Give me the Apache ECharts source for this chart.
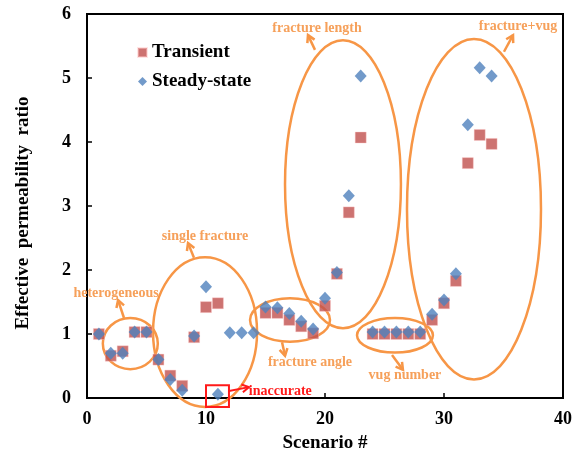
<!DOCTYPE html>
<html>
<head>
<meta charset="utf-8">
<script src="https://cdn.jsdelivr.net/npm/echarts@6/dist/echarts.min.js"></script>
<style>
  html, body { margin: 0; padding: 0; background: #fff; }
  #chart { width: 573px; height: 459px; }
</style>
</head>
<body>
<div id="chart"></div>
<script>
// Effective permeability ratio per simulation scenario
const scenarios = [1, 2, 3, 4, 5, 6, 7, 8, 9, 10, 11, 12, 13, 14, 15, 16, 17,
                   18, 19, 20, 21, 22, 23, 24, 25, 26, 27, 28, 29, 30, 31, 32, 33, 34];
const transient = [1.00, 0.66, 0.73, 1.03, 1.03, 0.60, 0.35, 0.19, 0.95, 1.42, 1.48, null, null, null,
                   1.33, 1.33, 1.22, 1.12, 1.01, 1.44, 1.94, 2.90, 4.07,
                   1.00, 1.00, 1.00, 1.00, 1.00, 1.22, 1.48, 1.83, 3.67, 4.11, 3.97];
const steadyState = [1.00, 0.70, 0.70, 1.03, 1.03, 0.60, 0.29, 0.12, 0.97, 1.74, 0.06, 1.02, 1.02, 1.02,
                     1.42, 1.41, 1.32, 1.20, 1.08, 1.56, 1.96, 3.16, 5.03,
                     1.03, 1.03, 1.03, 1.03, 1.03, 1.31, 1.53, 1.94, 4.27, 5.16, 5.03];
const xRange = [0, 40, 10];   // min, max, step
const yRange = [0, 6, 1];

const SERIF = '"Liberation Serif", "DejaVu Serif", serif';
const ORANGE = '#F79646';
const ORANGE_TEXT = '#F6A05A';
const RED = '#FF1A1A';

// Scenario groups, outlined in data units: ellipse centre and radii, pointer arrow, label anchor
const groupNotes = [
  { text: 'heterogeneous',   c: [3.64, 0.85],  r: [2.31, 0.40], arrow: [[3.11, 1.25], [2.61, 1.53]],  at: [2.44, 1.64] },
  { text: 'single fracture', c: [9.92, 1.03],  r: [4.37, 1.17], arrow: [[8.99, 2.19], [8.49, 2.42]],  at: [9.92, 2.53] },
  { text: 'fracture angle',  c: [17.06, 1.22], r: [3.36, 0.34], arrow: [[16.39, 0.87], [16.64, 0.66]], at: [18.74, 0.55] },
  { text: 'fracture length', c: [21.51, 3.34], r: [4.87, 2.25], arrow: [[19.16, 5.44], [18.57, 5.67]], at: [19.33, 5.77] },
  { text: 'vug number',      c: [25.88, 0.98], r: [3.19, 0.27], arrow: [[25.63, 0.67], [26.55, 0.44]], at: [26.72, 0.36] },
  { text: 'fracture+vug',    c: [32.52, 2.95], r: [5.63, 2.66], arrow: [[35.04, 5.41], [35.80, 5.67]], at: [36.22, 5.81] }
];
// Box around the unreliable steady-state point, with its pointer and label
const flagNote = { box: [[10.0, 0.20], [11.93, -0.14]], arrow: [[11.93, 0.11], [13.61, 0.17]], at: [13.6, 0.11], text: 'inaccurate' };

const pairs = (xs, ys) => xs.map((x, i) => [x, ys[i]]);

const chart = echarts.init(document.getElementById('chart'), null, { renderer: 'canvas' });

const axisText = { fontFamily: SERIF, fontWeight: 'bold', fontSize: 18, color: '#000' };
const titleText = { fontFamily: SERIF, fontWeight: 'bold', fontSize: 19, color: '#000' };

chart.setOption({
  animation: false,
  backgroundColor: '#fff',
  grid: {
    left: 87, right: 10, top: 14, bottom: 61,
    show: true, borderColor: '#000', borderWidth: 2,
    containLabel: false, outerBoundsMode: 'none'
  },
  legend: {
    orient: 'vertical', left: 132, top: 38,
    itemWidth: 9, itemHeight: 9, itemGap: 10,
    textStyle: { fontFamily: SERIF, fontWeight: 'bold', fontSize: 19, color: '#000', lineHeight: 19 },
    data: [{ name: 'Transient', icon: 'rect' }, { name: 'Steady-state', icon: 'diamond' }]
  },
  xAxis: {
    type: 'value', min: xRange[0], max: xRange[1], interval: xRange[2],
    name: 'Scenario #', nameLocation: 'middle', nameGap: 36,
    nameTextStyle: titleText,
    axisLine: { show: true, lineStyle: { color: '#000', width: 2 } },
    axisTick: { show: true, inside: true, length: 5, lineStyle: { color: '#000', width: 1.5 } },
    axisLabel: Object.assign({ margin: 12 }, axisText),
    splitLine: { show: false }
  },
  yAxis: {
    type: 'value', min: yRange[0], max: yRange[1], interval: yRange[2],
    name: 'Effective  permeability  ratio', nameLocation: 'middle', nameGap: 54,
    nameTextStyle: Object.assign({ padding: [0, 14, 0, 0] }, titleText),
    axisLine: { show: true, lineStyle: { color: '#000', width: 2 } },
    axisTick: { show: true, inside: true, length: 5, lineStyle: { color: '#000', width: 1.5 } },
    axisLabel: Object.assign({ margin: 16 }, axisText),
    splitLine: { show: false }
  },
  series: [
    {
      name: 'Transient', type: 'scatter', symbol: 'rect', symbolSize: 11, z: 3,
      itemStyle: { color: '#C0504D', borderColor: 'rgba(255,200,200,0.6)', borderWidth: 0.8 },
      data: pairs(scenarios, transient).filter(p => p[1] != null)
    },
    {
      name: 'Steady-state', type: 'scatter', symbol: 'diamond', symbolSize: [12, 13], z: 4,
      itemStyle: { color: '#4F81BD' },
      data: pairs(scenarios, steadyState)
    }
  ]
});

// Annotation overlay, placed through the grid's own coordinate conversion
const toPx = p => chart.convertToPixel({ gridIndex: 0 }, p);

function arrowParts(p0, p1, color, width) {
  const a = toPx(p0), b = toPx(p1);
  const ang = Math.atan2(b[1] - a[1], b[0] - a[0]);
  const L = 8, spread = Math.PI / 6;
  const h1 = [b[0] - L * Math.cos(ang - spread), b[1] - L * Math.sin(ang - spread)];
  const h2 = [b[0] - L * Math.cos(ang + spread), b[1] - L * Math.sin(ang + spread)];
  return [
    { type: 'line', z: 5, shape: { x1: a[0], y1: a[1], x2: b[0], y2: b[1] }, style: { stroke: color, lineWidth: width } },
    { type: 'polyline', z: 5, shape: { points: [h1, b, h2] }, style: { stroke: color, lineWidth: width, fill: null } }
  ];
}

function label(at, text, color, align) {
  const p = toPx(at);
  return {
    type: 'text', z: 6, x: p[0], y: p[1],
    style: { text: text, fill: color, font: 'bold 14px ' + SERIF, align: align || 'center', verticalAlign: 'middle' }
  };
}

const elements = [];
groupNotes.forEach(g => {
  const c = toPx(g.c);
  const ex = toPx([g.c[0] + g.r[0], g.c[1]]);
  const ey = toPx([g.c[0], g.c[1] + g.r[1]]);
  elements.push({
    type: 'ellipse', z: 1,
    shape: { cx: c[0], cy: c[1], rx: Math.abs(ex[0] - c[0]), ry: Math.abs(c[1] - ey[1]) },
    style: { fill: null, stroke: ORANGE, lineWidth: 2.5 }
  });
  elements.push(...arrowParts(g.arrow[0], g.arrow[1], ORANGE, 2.5));
  elements.push(label(g.at, g.text, ORANGE_TEXT));
});

const b0 = toPx(flagNote.box[0]), b1 = toPx(flagNote.box[1]);
elements.push({
  type: 'rect', z: 5,
  shape: { x: Math.min(b0[0], b1[0]), y: Math.min(b0[1], b1[1]), width: Math.abs(b1[0] - b0[0]), height: Math.abs(b1[1] - b0[1]) },
  style: { fill: null, stroke: RED, lineWidth: 2 }
});
elements.push(...arrowParts(flagNote.arrow[0], flagNote.arrow[1], RED, 2));
elements.push(label(flagNote.at, flagNote.text, RED, 'left'));

chart.setOption({ graphic: { elements: elements } });
</script>
</body>
</html>
